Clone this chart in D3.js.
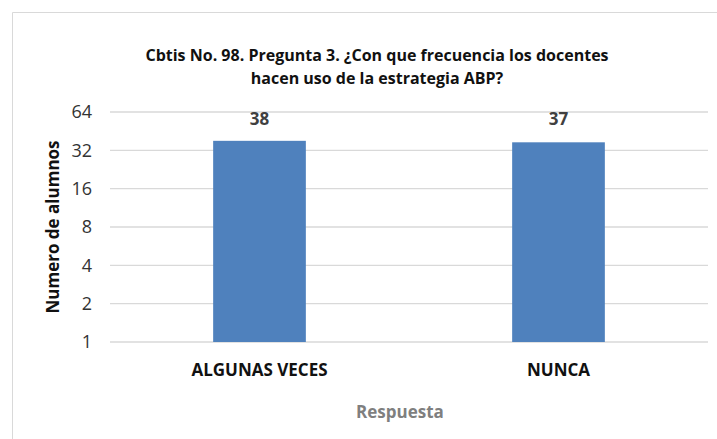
<!DOCTYPE html>
<html>
<head>
<meta charset="utf-8">
<script src="https://cdn.jsdelivr.net/npm/d3@7"></script>
<style>
  body { margin: 0; background: #fff; }
  text { font-family: "Open Sans", "Noto Sans", sans-serif; }
</style>
</head>
<body>
<script>
// data
var categories = ["ALGUNAS VECES", "NUNCA"];
var values = [38, 37];
var tickValues = [1, 2, 4, 8, 16, 32, 64];
var titleLines = ["Cbtis No. 98. Pregunta 3. ¿Con que frecuencia los docentes",
                  "hacen uso de la estrategia ABP?"];

var width = 717, height = 439;
var margin = {left: 110, right: 9, top: 112, bottom: 97};

var svg = d3.select("body").append("svg")
    .attr("width", width)
    .attr("height", height);

// chart frame (left and top edges visible)
svg.append("path")
    .attr("d", "M12.5," + height + " V12.5 H" + width)
    .attr("fill", "none")
    .attr("stroke", "#d9d9d9")
    .attr("stroke-width", 1);

var x = d3.scaleBand()
    .domain(categories)
    .range([margin.left, width - margin.right])
    .paddingInner(0.69)
    .paddingOuter(0.345);

var y = d3.scaleLog().base(2)
    .domain([1, 64])
    .range([height - margin.bottom, margin.top]);

// gridlines
svg.append("g").selectAll("line")
    .data(tickValues)
    .enter().append("line")
    .attr("x1", margin.left)
    .attr("x2", width - margin.right)
    .attr("y1", function(d) { return y(d); })
    .attr("y2", function(d) { return y(d); })
    .attr("stroke", "#d9d9d9")
    .attr("stroke-width", 1.3);

// y axis labels
var yAxis = d3.axisLeft(y)
    .tickValues(tickValues)
    .tickFormat(d3.format("d"))
    .tickSize(0)
    .tickPadding(0);
var gy = svg.append("g")
    .attr("transform", "translate(" + (margin.left - 18) + ",0)")
    .call(yAxis);
gy.select(".domain").remove();
gy.selectAll("text")
    .attr("font-size", 18)
    .attr("font-family", "Open Sans, sans-serif")
    .attr("fill", "#333");

// bars
svg.append("g").selectAll("rect")
    .data(values)
    .enter().append("rect")
    .attr("x", function(d, i) { return x(categories[i]); })
    .attr("width", x.bandwidth())
    .attr("y", function(d) { return y(d); })
    .attr("height", function(d) { return y(1) - y(d); })
    .attr("fill", "#4f81bd");

// value labels
svg.append("g").selectAll("text")
    .data(values)
    .enter().append("text")
    .attr("x", function(d, i) { return x(categories[i]) + x.bandwidth() / 2; })
    .attr("y", y(64) + 7)
    .attr("dy", "0.35em")
    .attr("text-anchor", "middle")
    .attr("font-size", 17)
    .attr("font-weight", "bold")
    .attr("fill", "#404040")
    .text(function(d) { return d; });

// x axis labels
var xAxis = d3.axisBottom(x).tickSize(0).tickPadding(0);
var gx = svg.append("g")
    .attr("transform", "translate(0," + (y(1) + 28) + ")")
    .call(xAxis);
gx.select(".domain").remove();
gx.selectAll("text")
    .attr("font-size", 17)
    .attr("font-weight", "bold")
    .attr("font-family", "Open Sans, sans-serif")
    .attr("fill", "#111")
    .attr("dy", "0.35em")
    .attr("y", 0);

// title
svg.append("g").selectAll("text")
    .data(titleLines)
    .enter().append("text")
    .attr("x", 377)
    .attr("y", function(d, i) { return 55 + i * 23; })
    .attr("dy", "0.35em")
    .attr("text-anchor", "middle")
    .attr("font-size", 16)
    .attr("font-weight", "bold")
    .attr("fill", "#111")
    .text(function(d) { return d; });

// axis titles
svg.append("text")
    .attr("x", 400)
    .attr("y", 412)
    .attr("dy", "0.35em")
    .attr("text-anchor", "middle")
    .attr("font-size", 17)
    .attr("font-weight", "bold")
    .attr("fill", "#7f7f7f")
    .text("Respuesta");

svg.append("text")
    .attr("transform", "translate(53,227) rotate(-90)")
    .attr("dy", "0.35em")
    .attr("text-anchor", "middle")
    .attr("font-size", 17)
    .attr("font-weight", "bold")
    .attr("fill", "#111")
    .text("Numero de alumnos");
</script>
</body>
</html>
